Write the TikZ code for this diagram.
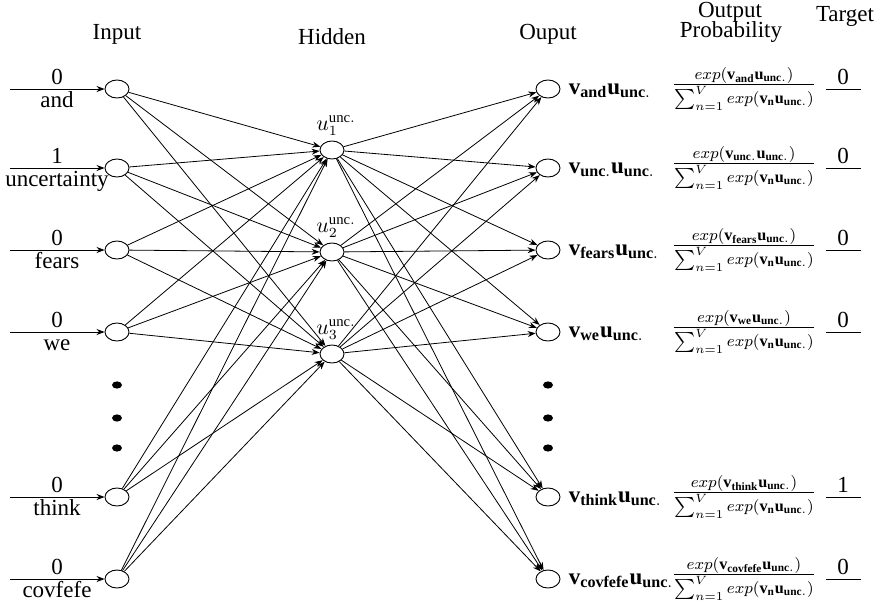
\documentclass[tikz,border=0pt]{standalone}
\usepackage{fontspec}
\setmainfont{Liberation Serif}
\usetikzlibrary{shapes.geometric,arrows.meta}
\begin{document}
\begin{tikzpicture}[x=0.5pt,y=-0.5pt,
  neuron/.style={ellipse,draw,line width=0.45pt,minimum width=12pt,minimum height=9pt,inner sep=0pt},
  conn/.style={-{Stealth[length=4pt,width=3pt]},line width=0.4pt},
  bigdot/.style={ellipse,fill,minimum width=5pt,minimum height=3.6pt,inner sep=0pt},
  txt/.style={font=\fontsize{11.5}{13}\selectfont,inner sep=0pt},
  head/.style={txt,anchor=base},
  prob/.style={font=\fontsize{8.1}{9.5}\selectfont,inner sep=0pt},
  hlab/.style={font=\fontsize{10.5}{12}\selectfont,inner sep=0pt},
]
\useasboundingbox (0,0) rectangle (885,606);

% column headings
\node[head] (hin)  at (117,39) {Input};
\node[head] (hhid) at (332,44) {Hidden};
\node[head] (hout) at (548,39) {Ouput};
\node[head] (hpr)  at (730,17) {Output};
\node[head] (hpr2) at (731,37) {Probability};
\node[head] (htg)  at (845,21) {Target};

% input and output layers
\foreach \n/\y/\v/\w/\t in {1/89/0/and/0,2/168/1/uncertainty/0,3/250/0/fears/0,4/332/0/we/0,5/497/0/think/1,6/579/0/covfefe/0} {
  \node[neuron] (i\n) at (117,\y) {};
  \node[neuron] (o\n) at (548,\y) {};
  \coordinate (a\n) at (10,\y);
  \draw[conn] (a\n) -- (i\n);
  \node[txt,anchor=base] (iv\n) at (57,\y-5) {\v};
  \node[txt,anchor=base] (iw\n) at (57,\y+18) {\w};
  % target value over a short rule
  \coordinate (t\n a) at (826,\y);
  \coordinate (t\n b) at (861,\y);
  \draw[line width=0.5pt] (t\n a) -- (t\n b);
  \node[txt,anchor=base] (tv\n) at (843,\y-5) {\t};
}

% output scores and softmax probabilities
\foreach \n/\w in {1/and,2/unc.,3/fears,4/we,5/think,6/covfefe} {
  \node[txt,anchor=west] (os\n) at ([xshift=4pt,yshift=-1pt]o\n.east) {$\mathbf{v}_{\mathbf{\w}}\mathbf{u}_{\mathbf{unc.}}$};
  \node[prob] (op\n) at (744,0 |- o\n) {$\frac{\textstyle exp(\mathbf{v}_{\mathbf{\w}}\mathbf{u}_{\mathbf{unc.}})}{\textstyle \sum\nolimits_{n=1}^{V} exp(\mathbf{v}_{\mathbf{n}}\mathbf{u}_{\mathbf{unc.}})}$};
}

% hidden layer
\foreach \n/\y in {1/150,2/252,3/354} {
  \node[neuron] (h\n) at (332,\y) {};
  \node[hlab,anchor=base west] (hl\n) at (316,\y-20) {$u_{\n}^{\mathrm{unc.}}$};
}

% ellipsis dots
\foreach \k/\y in {1/385,2/418,3/448} {
  \node[bigdot] (di\k) at (117,\y) {};
  \node[bigdot] (do\k) at (548,\y) {};
}

% connections
\foreach \i in {1,...,6} {
  \foreach \h in {1,2,3} {
    \draw[conn] (i\i) -- (h\h);
    \draw[conn] (h\h) -- (o\i);
  }
}
\end{tikzpicture}
\end{document}
